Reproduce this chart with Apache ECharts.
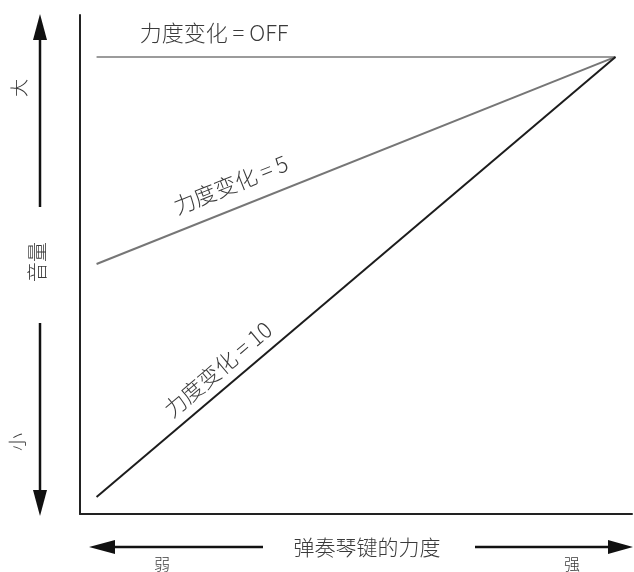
<!DOCTYPE html>
<html>
<head>
<meta charset="utf-8">
<script src="https://cdn.jsdelivr.net/npm/echarts@6/dist/echarts.min.js"></script>
<style>
html, body { margin: 0; background: #fff; }
#main { width: 634px; height: 572px; }
</style>
</head>
<body>
<div id="main"></div>
<script>
// 弹奏力度（横轴）与音量（纵轴）
var strength = [3, 97];
var volOff = [91.6, 91.6];
var vol5 = [50.1, 91.6];
var vol10 = [3.4, 91.6];
var names = ['力度变化 = OFF', '力度变化 = 5', '力度变化 = 10'];
var lineColors = ['#9b9b9b', '#767676', '#1c1c1c'];
var labelAt = [24.3, 28.9, 27.2];
var labelGap = [24, 24, 19];

var FONT = '"Noto Sans CJK SC", "Noto Sans", sans-serif';
var TXT = '#3a3a3a';

function pairs(ys) {
    return strength.map(function (x, i) { return [x, ys[i]]; });
}
var allY = [volOff, vol5, vol10];

var myChart = echarts.init(document.getElementById('main'));

var option = {
    animation: false,
    grid: { left: 80, right: 2, top: 15, bottom: 58 },
    xAxis: {
        type: 'value', min: 0, max: 100,
        axisLine: { show: true, onZero: false, lineStyle: { color: '#222', width: 2 } },
        axisTick: { show: false }, axisLabel: { show: false }, splitLine: { show: false }
    },
    yAxis: {
        type: 'value', min: 0, max: 100,
        axisLine: { show: true, onZero: false, lineStyle: { color: '#222', width: 2 } },
        axisTick: { show: false }, axisLabel: { show: false }, splitLine: { show: false }
    },
    series: allY.map(function (ys, i) {
        return {
            name: names[i],
            type: 'line',
            data: pairs(ys),
            symbol: 'none',
            lineStyle: { color: lineColors[i], width: 2 }
        };
    })
};
myChart.setOption(option);

// 线上的文字，按线的角度旋转
var g = [];
allY.forEach(function (ys, i) {
    var a = myChart.convertToPixel({ gridIndex: 0 }, [strength[0], ys[0]]);
    var b = myChart.convertToPixel({ gridIndex: 0 }, [strength[1], ys[1]]);
    var ang = Math.atan2(a[1] - b[1], b[0] - a[0]);
    var t = (labelAt[i] - strength[0]) / (strength[1] - strength[0]);
    var px = a[0] + (b[0] - a[0]) * t;
    var py = a[1] + (b[1] - a[1]) * t;
    g.push({
        type: 'text',
        x: px - labelGap[i] * Math.sin(ang),
        y: py - labelGap[i] * Math.cos(ang),
        rotation: ang,
        style: {
            text: names[i], fill: TXT, font: '300 22px ' + FONT,
            align: 'center', verticalAlign: 'middle'
        }
    });
});

function txt(s, x, y, size, rot) {
    return {
        type: 'text', x: x, y: y, rotation: rot || 0,
        style: { text: s, fill: TXT, font: '300 ' + size + 'px ' + FONT, align: 'center', verticalAlign: 'middle' }
    };
}
function seg(x1, y1, x2, y2) {
    return { type: 'line', shape: { x1: x1, y1: y1, x2: x2, y2: y2 }, style: { stroke: '#111', lineWidth: 2.5 } };
}
function head(pts) {
    return { type: 'polygon', shape: { points: pts }, style: { fill: '#111' } };
}

// 纵向箭头：音量
g.push(head([[40, 14], [33, 40], [47, 40]]));
g.push(seg(40, 38, 40, 207));
g.push(seg(40, 323, 40, 492));
g.push(head([[40, 516], [33, 490], [47, 490]]));
g.push(txt('大', 19, 88, 18, Math.PI / 2));
g.push(txt('音量', 37, 262, 20, Math.PI / 2));
g.push(txt('小', 17, 442, 18, Math.PI / 2));

// 横向箭头：弹奏琴键的力度
g.push(head([[89, 547], [115, 540], [115, 554]]));
g.push(seg(113, 547, 263, 547));
g.push(seg(475, 547, 610, 547));
g.push(head([[633, 547], [608, 540], [608, 554]]));
g.push(txt('弹奏琴键的力度', 367, 547, 21));
g.push(txt('弱', 162, 564, 16));
g.push(txt('强', 572, 564, 16));

myChart.setOption({ graphic: g });
</script>
</body>
</html>
